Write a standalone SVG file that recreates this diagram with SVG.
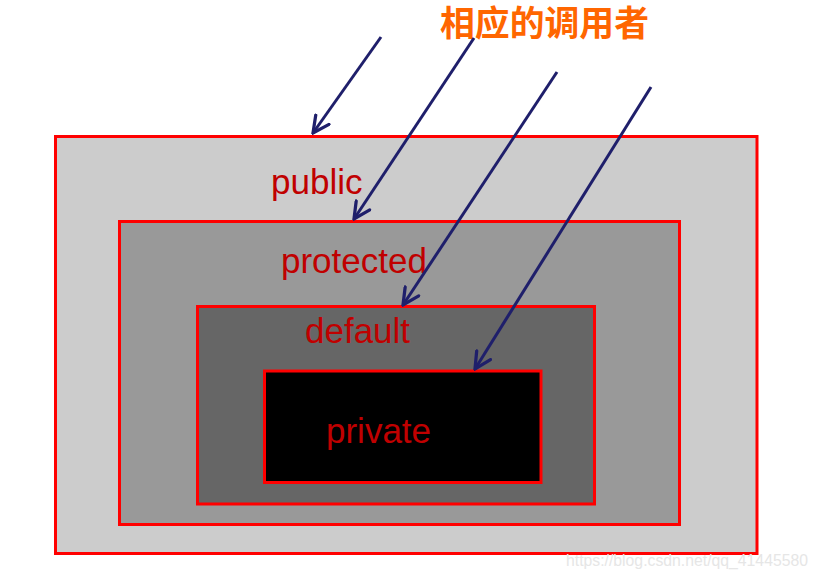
<svg xmlns="http://www.w3.org/2000/svg" width="818" height="578" viewBox="0 0 818 578">
<style>
.box{stroke:#ff0000;stroke-width:3}
.lbl{font-family:"Liberation Sans",Arial,sans-serif;font-size:35px;fill:#c00000}
.arr{stroke:#1f1f6b;stroke-width:3;fill:none;marker-end:url(#ah)}
</style>
<defs>
<marker id="ah" viewBox="0 0 12 12" refX="11" refY="6" markerWidth="6.5" markerHeight="6.5" orient="auto" markerUnits="strokeWidth">
<path d="M1,1 L11,6 L1,11" fill="none" stroke="#1f1f6b" stroke-width="2" stroke-linecap="round" stroke-linejoin="miter"/>
</marker>
</defs>
<rect width="818" height="578" fill="#ffffff"/>
<g id="public">
<rect class="box" x="55.5" y="136.5" width="701.5" height="417" fill="#cccccc"/>
<text class="lbl" x="271" y="194">public</text>
</g>
<g id="protected">
<rect class="box" x="119.5" y="221.5" width="560" height="303" fill="#999999"/>
<text class="lbl" x="281" y="273">protected</text>
</g>
<g id="default">
<rect class="box" x="197.5" y="306.5" width="397" height="197.5" fill="#666666"/>
<text class="lbl" x="305" y="343">default</text>
</g>
<g id="private">
<rect class="box" x="264.5" y="371" width="276.5" height="111.5" fill="#000000"/>
<text class="lbl" x="326" y="443">private</text>
</g>
<g id="title">
<text x="440" y="36" font-family="'Noto Sans CJK SC',sans-serif" font-weight="bold" font-size="35" fill="#ff6600" textLength="209" lengthAdjust="spacingAndGlyphs">相应的调用者</text>
</g>
<g id="connectors">
<line class="arr" x1="381" y1="37" x2="313" y2="133"/>
<line class="arr" x1="474" y1="38" x2="354" y2="219"/>
<line class="arr" x1="557" y1="72" x2="403" y2="305"/>
<line class="arr" x1="651" y1="87" x2="475" y2="369"/>
</g>
<g id="watermark">
<text x="566" y="566" font-family="'Liberation Sans',Arial,sans-serif" font-size="17" fill="#e6e6e6" textLength="242" lengthAdjust="spacingAndGlyphs">https://blog.csdn.net/qq_41445580</text>
</g>
</svg>
